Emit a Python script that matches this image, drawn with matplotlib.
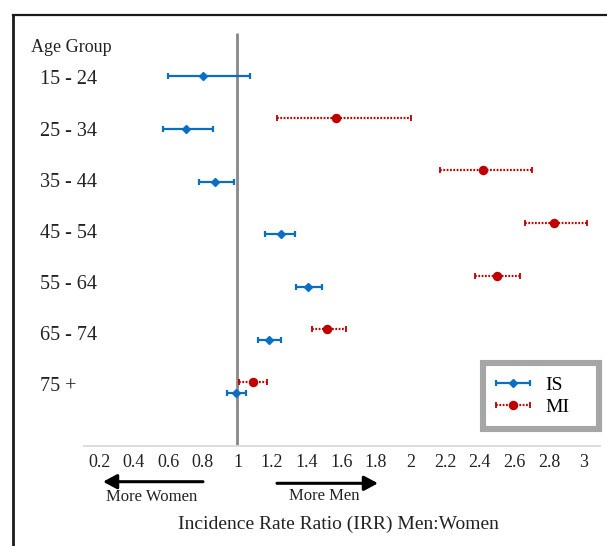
import numpy as np
import matplotlib
matplotlib.use("Agg")
import matplotlib.pyplot as plt
from matplotlib.lines import Line2D
from matplotlib.patches import Rectangle, FancyArrowPatch
from matplotlib.legend_handler import HandlerErrorbar

# ---- data ----
age_groups = ['15 - 24', '25 - 34', '35 - 44', '45 - 54', '55 - 64', '65 - 74', '75 +']
is_irr = [0.80, 0.70, 0.87, 1.25, 1.41, 1.18, 0.99]
is_lo = [0.60, 0.57, 0.78, 1.16, 1.34, 1.12, 0.94]
is_hi = [1.07, 0.86, 0.98, 1.33, 1.49, 1.25, 1.05]
mi_irr = [np.nan, 1.57, 2.42, 2.83, 2.50, 1.52, 1.09]
mi_lo = [np.nan, 1.23, 2.17, 2.66, 2.37, 1.43, 1.01]
mi_hi = [np.nan, 2.00, 2.70, 3.02, 2.63, 1.63, 1.17]
x_ticks = [0.2, 0.4, 0.6, 0.8, 1.0, 1.2, 1.4, 1.6, 1.8, 2.0, 2.2, 2.4, 2.6, 2.8, 3.0]
series_names = ['IS', 'MI']

plt.rcParams['font.family'] = ['Liberation Serif', 'DejaVu Serif']

W, H = 607, 546
fig = plt.figure(figsize=(W / 100, H / 100), dpi=100)

def fx(px):
    return px / W

def fy(py):
    return 1 - py / H

ax = fig.add_axes([fx(84), fy(445.5), fx(600) - fx(84), fy(23.2) - fy(445.5)])
ax.set_xlim(0.113, 3.095)
ax.set_ylim(8, 0)

rows = np.arange(1, len(age_groups) + 1)
is_irr_a = np.array(is_irr)
mi_irr_a = np.array(mi_irr)
is_err = [is_irr_a - np.array(is_lo), np.array(is_hi) - is_irr_a]
mi_err = [mi_irr_a - np.array(mi_lo), np.array(mi_hi) - mi_irr_a]

blue = '#0A6FC2'
red = '#C00000'

# reference line at IRR = 1
ax.vlines(1.0, 0.18, 8, color='#888888', lw=2.0, zorder=1)

e_is = ax.errorbar(is_irr_a, rows, xerr=is_err, fmt='D', color=blue, ms=3.8,
                   elinewidth=1.6, capsize=2.5, capthick=1.6, label=series_names[0], zorder=3)
e_mi = ax.errorbar(mi_irr_a, rows - 0.21, xerr=mi_err, fmt='o', color=red, ms=5.8,
                   elinewidth=1.6, capsize=2.5, capthick=1.3, label=series_names[1], zorder=3)
for lc in e_mi[2]:
    lc.set_linestyle((0, (0.8, 0.7)))

for s in ['left', 'right', 'top']:
    ax.spines[s].set_visible(False)
ax.spines['bottom'].set_color('#D9D9D9')
ax.spines['bottom'].set_linewidth(1.3)
ax.set_yticks([])
ax.set_xticks(x_ticks)
ax.set_xticklabels([f'{v:g}' for v in x_ticks])
ax.tick_params(axis='x', length=0, pad=6, labelsize=13, labelcolor='#222222')

# age group labels
ax.annotate('Age Group', xy=(fx(31), 0.46), xycoords=('figure fraction', 'data'),
            ha='left', va='center', fontsize=13, color='#222222')
for i, g in enumerate(age_groups):
    ax.annotate(g, xy=(fx(40), 1.076 + 0.968 * i), xycoords=('figure fraction', 'data'),
                ha='left', va='center', fontsize=14.5, color='#222222')

# direction arrows
arrow_kw = dict(arrowstyle='-|>,head_length=0.75,head_width=0.4', lw=2.2, color='black',
                mutation_scale=11, shrinkA=0, shrinkB=0)
fig.add_artist(FancyArrowPatch((fx(203), fy(481.7)), (fx(103), fy(481.7)),
                               transform=fig.transFigure, **arrow_kw))
fig.add_artist(FancyArrowPatch((fx(277), fy(483.3)), (fx(378), fy(483.3)),
                               transform=fig.transFigure, **arrow_kw))
fig.text(fx(152), fy(497), 'More Women', ha='center', va='center', fontsize=12, color='#222222')
fig.text(fx(324), fy(495.5), 'More Men', ha='center', va='center', fontsize=12, color='#222222')
fig.text(fx(338), fy(524), 'Incidence Rate Ratio (IRR) Men:Women', ha='center', va='center',
         fontsize=14, color='#222222')

# legend with thick grey frame
fig.add_artist(Rectangle((fx(483), fy(429)), fx(599) - fx(483), fy(363) - fy(429),
                         transform=fig.transFigure, fill=True, facecolor='white',
                         edgecolor='#A6A6A6', lw=4.4, zorder=5))
leg = fig.legend(handles=[e_is, e_mi], labels=series_names, loc='center left',
                 bbox_to_anchor=(fx(495), fy(396)), frameon=False, fontsize=14,
                 handlelength=1.85, handletextpad=0.75, labelspacing=0.25, borderpad=0,
                 borderaxespad=0,
                 handler_map={e_is: HandlerErrorbar(xerr_size=0.88, marker_pad=0),
                              e_mi: HandlerErrorbar(xerr_size=0.88, marker_pad=0)})
leg.set_zorder(6)

# outer image frame
fig.add_artist(Line2D([fx(13), fx(13)], [fy(15), 0], transform=fig.transFigure,
                      color='#1a1a1a', lw=2.0))
fig.add_artist(Line2D([fx(13), 1], [fy(15), fy(15)], transform=fig.transFigure,
                      color='#1a1a1a', lw=1.6))

fig.savefig('out.png', dpi=100)
